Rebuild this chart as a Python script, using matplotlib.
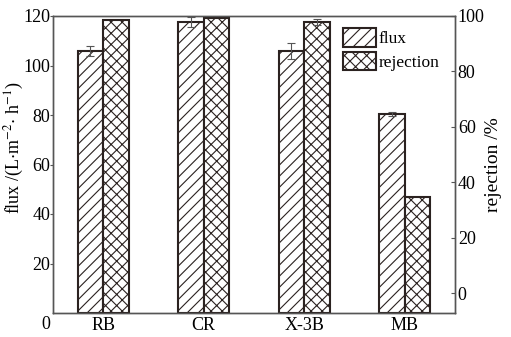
import numpy as np
import matplotlib.pyplot as plt

plt.rcParams['font.family'] = ['Liberation Serif', 'DejaVu Serif']
plt.rcParams['hatch.linewidth'] = 0.8
plt.rcParams['mathtext.fontset'] = 'stix'

dyes = ["RB", "CR", "X-3B", "MB"]
flux = [106.0, 117.6, 106.0, 80.4]
flux_err = [2.0, 2.0, 3.2, 1.0]
rejection = [98.4, 99.2, 97.8, 34.6]
rejection_err = [0.0, 0.0, 1.2, 0.0]

edge = "#2b2220"
x = np.arange(len(dyes))
w = 0.255
rej_min = -7.2
fs = 13

fig = plt.figure(figsize=(5.11, 3.37), dpi=100)
ax = fig.add_axes([53 / 511, 24 / 337, 402 / 511, 297 / 337])
ax2 = ax.twinx()

b1 = ax.bar(x - w / 2, flux, w, color="white", edgecolor=edge, hatch="///",
            linewidth=1.5, label="flux", zorder=2)
ax.errorbar(x - w / 2, flux, yerr=flux_err, fmt="none", ecolor="#555",
            elinewidth=0.8, capsize=3, capthick=0.8, zorder=3)

# rejection bars start at the bottom of the right axis
heights = [r - rej_min for r in rejection]
b2 = ax2.bar(x + w / 2, heights, w, bottom=rej_min, color="white", edgecolor=edge,
             hatch="xxx", linewidth=1.5, label="rejection", zorder=2)
for xi, r, e in zip(x + w / 2, rejection, rejection_err):
    if e > 0:
        ax2.errorbar(xi, r, yerr=e, fmt="none", ecolor="#555",
                     elinewidth=0.8, capsize=3, capthick=0.8, zorder=3)

ax.set_xlim(-0.5, 3.5)
ax.set_ylim(0, 120)
ax2.set_ylim(rej_min, 100)

ax.set_xticks(x)
ax.set_xticklabels(dyes)
ax.set_yticks([20, 40, 60, 80, 100, 120])
ax2.set_yticks([0, 20, 40, 60, 80, 100])
ax.text(-0.57, -4.5, "0", ha="center", va="center", fontsize=fs)

for a in (ax, ax2):
    for s in a.spines.values():
        s.set_color("#555")
        s.set_linewidth(1.0)
ax.tick_params(axis="x", length=0, labelsize=fs, pad=3)
ax.tick_params(axis="y", direction="out", length=2, labelsize=fs, pad=0, color="#555")
ax2.tick_params(axis="y", direction="in", length=3, labelsize=fs, pad=2, color="#555")

ax.set_ylabel(r"flux /(L$\cdot$m$^{-2}$$\cdot$ h$^{-1}$)", fontsize=fs)
ax.yaxis.set_label_coords(-0.068, 0.556)
ax2.set_ylabel("rejection /%", fontsize=14, labelpad=0)

ax.legend([b1, b2], ["flux", "rejection"], loc="upper left",
          bbox_to_anchor=(0.69, 1.0), frameon=False, fontsize=12.5,
          handlelength=1.9, handleheight=1.25, handletextpad=0.2,
          labelspacing=0.25, borderaxespad=0.3)

fig.savefig("out.png", dpi=100)
